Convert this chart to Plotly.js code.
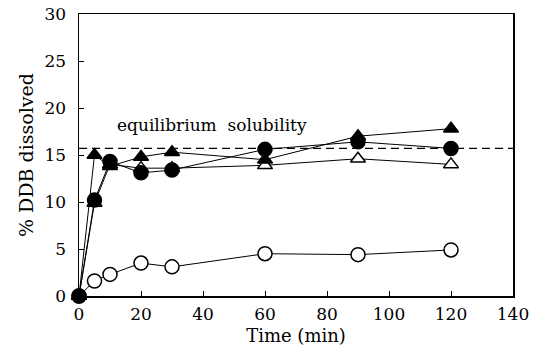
<!DOCTYPE html>
<html><head><meta charset="utf-8">
<script src="https://cdn.plot.ly/plotly-3.0.1.min.js"></script>
<style>html,body{margin:0;padding:0;background:#fff}#c{width:545px;height:353px}</style>
</head><body><div id="c"></div>
<script>
const time = [0, 5, 10, 20, 30, 60, 90, 120];
const openCircle = [0, 1.6, 2.3, 3.5, 3.1, 4.5, 4.4, 4.9];
const filledCircle = [0, 10.2, 14.3, 13.1, 13.4, 15.6, 16.4, 15.7];
const filledTriangle = [0, 15.0, 13.8, 14.8, 15.3, 14.5, 17.0, 17.8];
const openTriangle = [0, 9.9, 14.0, 13.6, 13.6, 13.9, 14.6, 14.0];
const eqX = [0, 140];
const eqY = [15.7, 15.7];
const labelText = "equilibrium  solubility";

const serif = "DejaVu Serif";
function tr(y, sym, fill) {
  return {x: time, y: y, mode: 'lines+markers', type: 'scatter', cliponaxis: false,
    line: {color: '#000', width: 1},
    marker: {symbol: sym, size: sym.indexOf('triangle') === 0 ? 13 : 14,
      color: fill ? '#000' : '#fff', line: {color: '#000', width: 1.5}}};
}
const data = [
  {x: eqX, y: eqY, mode: 'lines', type: 'scatter', line: {color: '#000', width: 1.3, dash: '8px,5px'}},
  tr(openTriangle, 'triangle-up', false),
  tr(openCircle, 'circle', false),
  tr(filledTriangle, 'triangle-up', true),
  tr(filledCircle, 'circle', true)
];
const layout = {
  width: 545, height: 353, showlegend: false,
  margin: {l: 79, r: 32, t: 14, b: 57},
  paper_bgcolor: '#fff', plot_bgcolor: '#fff',
  font: {family: serif, color: '#000', size: 17},
  xaxis: {range: [0, 140], tickvals: [0, 20, 40, 60, 80, 100, 120, 140],
    ticks: 'inside', ticklen: 5, tickcolor: '#000', showline: true, linecolor: '#000', linewidth: 1.5,
    mirror: true, showgrid: false, zeroline: false, tickfont: {size: 17, family: serif},
    ticklabelstandoff: 2,
    title: {text: 'Time (min)', font: {size: 18, family: serif}, standoff: 6}},
  yaxis: {range: [0, 30], tickvals: [0, 5, 10, 15, 20, 25, 30],
    ticks: 'inside', ticklen: 5, tickcolor: '#000', showline: true, linecolor: '#000', linewidth: 1.5,
    mirror: true, showgrid: false, zeroline: false, tickfont: {size: 17, family: serif},
    ticklabelstandoff: 8,
    title: {text: '% DDB dissolved', font: {size: 19, family: serif}, standoff: 6}},
  annotations: [{x: 11.5, y: 18.2, xref: 'x', yref: 'y', text: labelText, showarrow: false,
    xanchor: 'left', yanchor: 'middle', font: {size: 17, family: serif}}]
};
Plotly.newPlot('c', data, layout, {displayModeBar: false, staticPlot: true});
</script></body></html>
